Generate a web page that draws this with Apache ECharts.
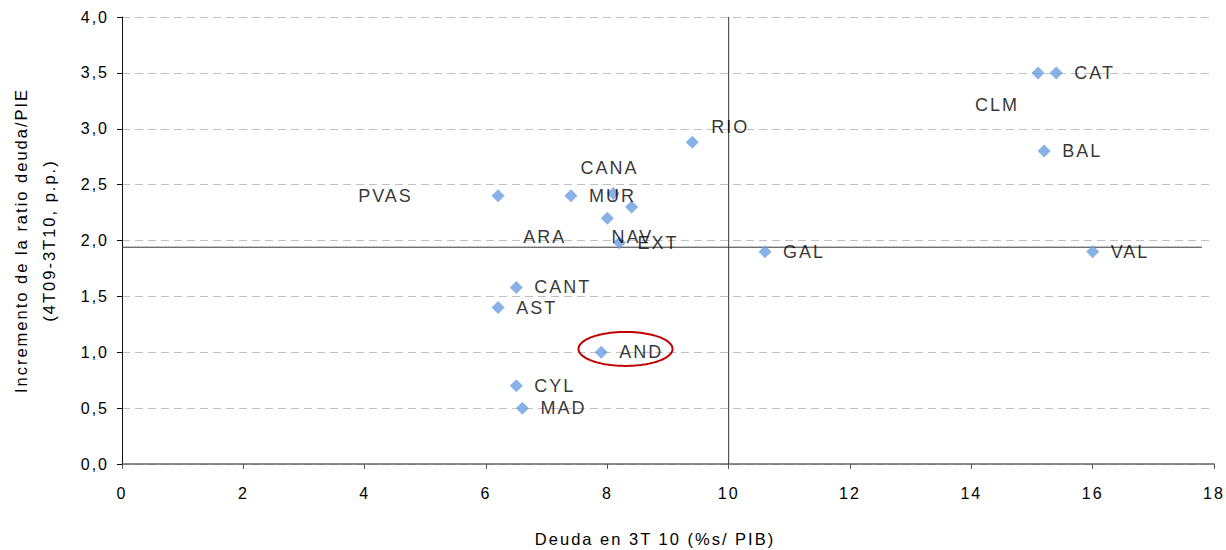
<!DOCTYPE html>
<html>
<head>
<meta charset="utf-8">
<script src="https://cdn.jsdelivr.net/npm/echarts@6/dist/echarts.min.js"></script>
<style>
  html, body { margin: 0; padding: 0; background: #fff; }
  #chart { width: 1226px; height: 550px; }
  #chart text { letter-spacing: 2px; }
</style>
</head>
<body>
<div id="chart"></div>
<script>
// Comunidades autónomas: deuda 3T10 (% PIB) vs. incremento de la ratio deuda/PIB
const regions  = ['PVAS', 'MUR', 'CANA', 'ARA', 'NAV', 'EXT', 'RIO', 'CANT', 'AST', 'AND', 'CYL', 'MAD', 'GAL', 'VAL', 'BAL', 'CAT', 'CLM'];
const debt     = [6.2, 7.4, 8.1, 8.0, 8.4, 8.2, 9.4, 6.5, 6.2, 7.9, 6.5, 6.6, 10.6, 16.0, 15.2, 15.4, 15.1];
const increase = [2.4, 2.4, 2.42, 2.2, 2.3, 1.98, 2.88, 1.58, 1.4, 1.0, 0.7, 0.5, 1.9, 1.9, 2.8, 3.5, 3.5];

// Axis ticks
const xTicks = [0, 2, 4, 6, 8, 10, 12, 14, 16, 18];
const yTicks = [0, 0.5, 1.0, 1.5, 2.0, 2.5, 3.0, 3.5, 4.0];

// Reference lines (average levels)
const verticalRef   = [[10, 0], [10, 4]];
const horizontalRef = [[0, 1.94], [17.8, 1.94]];

// Highlighted region (circled)
const highlightCenter = [8.3, 1.03];

// Label placement: shift from marker centre to label start [dx, dy] in px
const defaultShift = [18, 0];
const labelShift = {
  PVAS: [-140, 0],
  CANA: [-33, -26],
  ARA:  [-84, 19],
  NAV:  [-20, 30],
  RIO:  [19, -15],
  CLM:  [-63, 32]
};

const FONT = '"Liberation Sans", Arial, sans-serif';
const SYM = 13;

const points = regions.map((name, i) => {
  const s = labelShift[name] || defaultShift;
  return {
    name: name,
    value: [debt[i], increase[i]],
    label: { offset: [s[0] - SYM / 2, s[1]] }
  };
});

const fmt = v => v.toFixed(1).replace('.', ',');

const chart = echarts.init(document.getElementById('chart'), null, { renderer: 'svg' });
chart.setOption({
  animation: false,
  backgroundColor: '#ffffff',
  grid: { left: 122, right: 12, top: 17, bottom: 86, containLabel: false, outerBoundsMode: 'none' },
  xAxis: {
    type: 'value',
    min: xTicks[0],
    max: xTicks[xTicks.length - 1],
    interval: xTicks[1] - xTicks[0],
    name: 'Deuda en 3T 10 (%s/ PIB)',
    nameLocation: 'middle',
    nameGap: 66,
    nameTextStyle: { fontFamily: FONT, fontSize: 16.5, color: '#000', padding: [0, 26, 0, 0] },
    axisLine: { onZero: false, lineStyle: { color: '#666', width: 1.5 } },
    axisTick: { show: true, length: 5, lineStyle: { color: '#555' } },
    axisLabel: { fontFamily: FONT, fontSize: 16, color: '#000', margin: 21 },
    splitLine: { show: false }
  },
  yAxis: {
    type: 'value',
    min: yTicks[0],
    max: yTicks[yTicks.length - 1],
    interval: yTicks[1] - yTicks[0],
    name: 'Incremento de la ratio deuda/PIE\n(4T09-3T10, p.p.)',
    nameLocation: 'middle',
    nameRotate: 90,
    nameGap: 59,
    nameTextStyle: { fontFamily: FONT, fontSize: 16.5, color: '#000', lineHeight: 28 },
    axisLine: { show: true, onZero: false, lineStyle: { color: '#111', width: 1 } },
    axisTick: { show: true, length: 5, lineStyle: { color: '#111' } },
    axisLabel: { fontFamily: FONT, fontSize: 16, color: '#000', margin: 13, formatter: fmt },
    splitLine: { show: true, lineStyle: { color: '#c0c0c0', type: [8, 5], width: 1 } }
  },
  series: [
    {
      type: 'line',
      data: verticalRef,
      symbol: 'none',
      silent: true,
      z: 2,
      lineStyle: { color: '#333', width: 1 }
    },
    {
      type: 'line',
      data: horizontalRef,
      symbol: 'none',
      silent: true,
      z: 2,
      lineStyle: { color: '#333', width: 1 }
    },
    {
      type: 'scatter',
      data: points,
      symbol: 'diamond',
      symbolSize: SYM,
      z: 3,
      itemStyle: { color: '#6a9ee0' },
      label: {
        show: true,
        position: 'right',
        distance: 0,
        formatter: p => p.name,
        fontFamily: FONT,
        fontSize: 18,
        color: '#000'
      }
    },
    {
      type: 'custom',
      coordinateSystem: 'cartesian2d',
      silent: true,
      z: 4,
      data: [highlightCenter],
      encode: { x: 0, y: 1 },
      renderItem: (params, api) => {
        const c = api.coord([api.value(0), api.value(1)]);
        const rx = 47, ry = 17, pts = [];
        for (let i = 0; i < 96; i++) {
          const a = i / 96 * Math.PI * 2;
          pts.push([c[0] + rx * Math.cos(a), c[1] + ry * Math.sin(a)]);
        }
        return {
          type: 'polygon',
          shape: { points: pts },
          style: { fill: 'none', stroke: '#c00000', lineWidth: 2 }
        };
      }
    }
  ]
});
</script>
</body>
</html>
